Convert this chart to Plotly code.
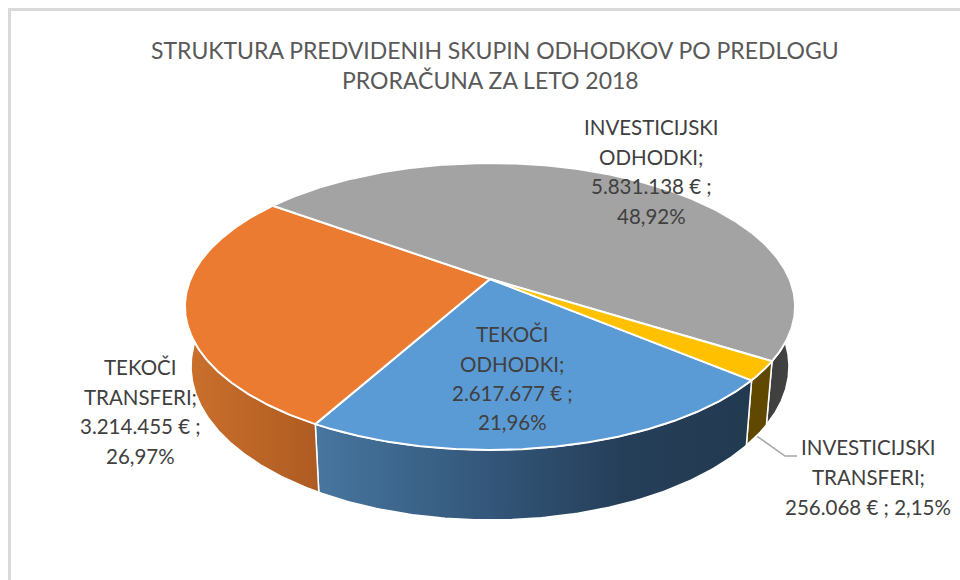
import numpy as np
import plotly.graph_objects as go

# ---- data ----
categories = ["TEKOČI ODHODKI", "TEKOČI TRANSFERI", "INVESTICIJSKI ODHODKI", "INVESTICIJSKI TRANSFERI"]
values = [2617677, 3214455, 5831138, 256068]
percents = ["21,96%", "26,97%", "48,92%", "2,15%"]
title_lines = ["STRUKTURA PREDVIDENIH SKUPIN ODHODKOV PO PREDLOGU", "PRORAČUNA ZA LETO 2018"]
label_lines = [
    ["TEKOČI", "ODHODKI;", "2.617.677 € ;", "21,96%"],
    ["TEKOČI", "TRANSFERI;", "3.214.455 € ;", "26,97%"],
    ["INVESTICIJSKI", "ODHODKI;", "5.831.138 € ;", "48,92%"],
    ["INVESTICIJSKI", "TRANSFERI;", "256.068 € ; 2,15%"],
]
top_colors = ["#5B9BD5", "#EA7B30", "#A3A3A3", "#FFC000"]

# ---- layout constants (pixel-space projection of the pie) ----
W, H = 960, 580
CX, AY = 490, 279
RX, RY, P = 299.4, 138.2, 0.1917
LOW_SX, LOW_SY, LOW_AY = 0.98, 1.07, 337
START = 130.0
FONT = "Lato"
label_x = [512, 140, 651, 868]
label_y = [[334, 364, 393, 422], [367, 397, 426, 456], [127, 157, 186, 216], [447, 477, 507]]
wall_scales = [
    [[0, "#47769F"], [0.4, "#335679"], [0.7, "#263F59"], [1, "#223A50"]],
    [[0, "#CB702C"], [1, "#AE5B22"]],
    [[0, "#3E3E3E"], [1, "#434343"]],
    [[0, "#604800"], [1, "#604800"]],
]


def project(theta, low=False):
    t = np.radians(theta)
    X, Y = np.sin(t), np.cos(t)
    w = 1 + P * Y
    if low:
        return CX + LOW_SX * RX * X / w, LOW_AY - LOW_SY * RY * Y / w
    return CX + RX * X / w, AY - RY * Y / w


fractions = np.array(values) / sum(values)
edges = START + 360 * np.concatenate([[0], np.cumsum(fractions)])
edges[-1] = START + 360

fig = go.Figure()

# side walls
for i in [2, 3, 0, 1]:
    a0, a1 = edges[i], edges[i + 1]
    # the investment slice wraps: only its right-hand front part is visible
    if i == 2:
        a0, a1 = 360 + 80, edges[3]
    if i == 1:
        a1 = 282
    th = np.linspace(a0, a1, 120)
    ux, uy = project(th)
    lx, ly = project(th, low=True)
    fig.add_trace(go.Scatter(
        x=np.concatenate([ux, lx[::-1], ux[:1]]),
        y=np.concatenate([uy, ly[::-1], uy[:1]]),
        mode="lines", fill="toself",
        fillgradient=dict(type="horizontal", colorscale=wall_scales[i]),
        line=dict(color="white", width=1.5),
        hoverinfo="skip", showlegend=False,
    ))

# top faces
for i in range(4):
    th = np.linspace(edges[i], edges[i + 1], 240)
    rx_, ry_ = project(th)
    fig.add_trace(go.Scatter(
        x=np.concatenate([[CX], rx_, [CX]]),
        y=np.concatenate([[AY], ry_, [AY]]),
        mode="lines", fill="toself", fillcolor=top_colors[i],
        line=dict(color="white", width=2),
        name=categories[i], text=f"{categories[i]}: {values[i]} € ; {percents[i]}",
        hoverinfo="text", showlegend=False,
    ))

# leader line for the small slice
mid = (edges[3] + edges[4]) / 2 - 360
sx, sy = project(mid, low=True)
fig.add_trace(go.Scatter(
    x=[sx, 785, 797], y=[sy + 1, 456, 456], mode="lines",
    line=dict(color="#A6A6A6", width=1.5), hoverinfo="skip", showlegend=False,
))

annotations = []
for lines, x, ys in zip(label_lines, label_x, label_y):
    for s, y in zip(lines, ys):
        annotations.append(dict(
            x=x, y=y, text=s, xref="x", yref="y", showarrow=False,
            xanchor="center", yanchor="middle",
            font=dict(family=FONT, size=20.5, color="#404040"),
        ))
for s, x, y in zip(title_lines, [495, 490], [50, 80]):
    annotations.append(dict(
        x=x, y=y, text=s, xref="x", yref="y", showarrow=False,
        xanchor="center", yanchor="middle",
        font=dict(family=FONT, size=23, color="#595959"),
    ))

fig.update_layout(
    width=W, height=H, margin=dict(l=0, r=0, t=0, b=0),
    paper_bgcolor="white", plot_bgcolor="white",
    xaxis=dict(range=[0, W], visible=False, fixedrange=True),
    yaxis=dict(range=[H, 0], visible=False, fixedrange=True),
    annotations=annotations,
    shapes=[dict(type="path", xref="x", yref="y",
                 path=f"M 9.5 {H} L 9.5 9.5 L {W} 9.5",
                 line=dict(color="#D9D9D9", width=3))],
)
fig.write_html(
    "out.html",
    config={"displayModeBar": False},
    post_script="document.body.style.margin='0';document.documentElement.style.overflow='hidden';",
)
